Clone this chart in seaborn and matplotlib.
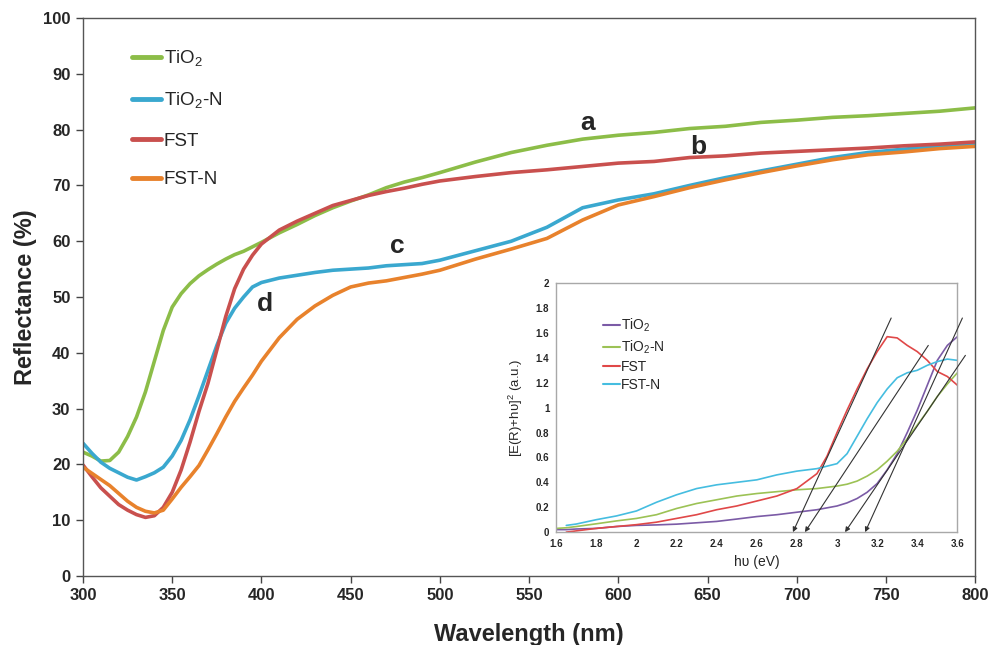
import numpy as np
import pandas as pd
import matplotlib
matplotlib.use("Agg")
import matplotlib.pyplot as plt
import seaborn as sns

# main reflectance spectra
wavelength = [300, 305, 310, 315, 320, 325, 330, 335, 340, 345, 350, 355, 360, 365, 370,
              375, 380, 385, 390, 395, 400, 410, 420, 430, 440, 450, 460, 470, 480, 490,
              500, 520, 540, 560, 580, 600, 620, 640, 660, 680, 700, 720, 740, 760, 780, 800]
tio2 = [22.2, 21.5, 20.6, 20.7, 22.2, 25.0, 28.5, 33.0, 38.5, 44.0, 48.2, 50.6, 52.4, 53.8, 54.9,
        55.9, 56.8, 57.6, 58.2, 59.0, 59.8, 61.5, 63.0, 64.6, 66.0, 67.2, 68.3, 69.6, 70.6, 71.4,
        72.3, 74.2, 75.9, 77.2, 78.3, 79.0, 79.5, 80.2, 80.6, 81.3, 81.7, 82.2, 82.5, 82.9, 83.3, 83.9]
tio2_n = [23.8, 22.0, 20.4, 19.3, 18.5, 17.7, 17.2, 17.8, 18.5, 19.5, 21.5, 24.3, 28.0, 32.3, 36.8,
          41.3, 45.3, 48.0, 50.0, 51.8, 52.6, 53.4, 53.9, 54.4, 54.8, 55.0, 55.2, 55.6, 55.8, 56.0,
          56.6, 58.3, 60.0, 62.5, 66.0, 67.4, 68.5, 70.0, 71.4, 72.6, 73.8, 75.0, 75.9, 76.5, 77.0, 77.4]
fst = [19.9, 17.8, 15.8, 14.3, 12.8, 11.8, 11.0, 10.5, 10.8, 12.3, 15.0, 19.0, 24.0, 29.5, 34.5,
       40.5, 46.5, 51.5, 55.0, 57.5, 59.5, 62.0, 63.6, 65.0, 66.4, 67.3, 68.2, 68.9, 69.5, 70.2,
       70.8, 71.6, 72.3, 72.8, 73.4, 74.0, 74.3, 75.0, 75.3, 75.8, 76.1, 76.4, 76.7, 77.1, 77.4, 77.8]
fst_n = [19.5, 18.4, 17.3, 16.2, 14.8, 13.4, 12.3, 11.6, 11.3, 11.8, 13.8, 15.9, 17.8, 19.8, 22.6,
         25.5, 28.5, 31.3, 33.7, 36.0, 38.5, 42.7, 46.0, 48.4, 50.3, 51.8, 52.5, 52.9, 53.5, 54.1,
         54.8, 56.8, 58.6, 60.5, 63.8, 66.5, 68.0, 69.6, 71.0, 72.3, 73.5, 74.6, 75.5, 76.0, 76.6, 77.0]
main_labels = ["TiO$_2$", "TiO$_2$-N", "FST", "FST-N"]
main_colors = ["#8cbd48", "#3aa8cf", "#c9504e", "#e8822c"]

# inset: Kubelka-Munk plot
energy = [1.6, 1.65, 1.7, 1.8, 1.9, 2.0, 2.1, 2.2, 2.3, 2.4, 2.5, 2.6, 2.7, 2.8, 2.9, 2.95,
          3.0, 3.05, 3.1, 3.15, 3.2, 3.25, 3.3, 3.35, 3.4, 3.45, 3.5, 3.55, 3.6]
km_tio2 = [0.02, 0.02, 0.025, 0.03, 0.045, 0.054, 0.058, 0.064, 0.075, 0.086, 0.105, 0.125, 0.14,
           0.16, 0.18, 0.195, 0.21, 0.235, 0.27, 0.32, 0.39, 0.50, 0.63, 0.80, 0.98, 1.18, 1.38,
           1.50, 1.57]
km_tio2_n = [0.03, 0.035, 0.045, 0.067, 0.09, 0.11, 0.14, 0.19, 0.23, 0.26, 0.29, 0.31, 0.325,
             0.34, 0.35, 0.36, 0.37, 0.385, 0.41, 0.45, 0.50, 0.57, 0.65, 0.75, 0.86, 0.97, 1.09,
             1.19, 1.28]
km_fst = [np.nan, 0.0, 0.01, 0.03, 0.045, 0.06, 0.08, 0.11, 0.14, 0.18, 0.21, 0.25, 0.29, 0.35,
          0.47, 0.61, 0.80, 0.98, 1.15, 1.31, 1.45, 1.57, 1.56, 1.50, 1.45, 1.38, 1.29, 1.25, 1.18]
km_fst_n = [np.nan, 0.054, 0.065, 0.10, 0.13, 0.17, 0.24, 0.30, 0.35, 0.38, 0.40, 0.42, 0.46,
            0.49, 0.51, 0.53, 0.55, 0.63, 0.77, 0.91, 1.04, 1.15, 1.24, 1.28, 1.30, 1.34, 1.37,
            1.39, 1.38]
inset_colors = ["#7b5ba6", "#9cc255", "#e04848", "#45bde0"]

# tangent lines: x-intercept (band gap) and upper end point
tan_x0 = [2.78, 2.84, 3.04, 3.14]
tan_x1 = [3.27, 3.455, 3.64, 3.625]
tan_y1 = [1.72, 1.50, 1.42, 1.72]

curve_labels = {"a": (583, 79.0), "b": (645, 74.8), "c": (476, 57.0), "d": (402, 46.6)}

sns.set_theme(style="white")
plt.rcParams["font.family"] = ["Liberation Sans", "DejaVu Sans"]
plt.rcParams["mathtext.fontset"] = "custom"
plt.rcParams["mathtext.rm"] = "Liberation Sans"

df = pd.DataFrame({"Wavelength": wavelength * 4,
                   "Reflectance": tio2 + tio2_n + fst + fst_n,
                   "Sample": np.repeat(main_labels, len(wavelength))})

fig = plt.figure(figsize=(9.88, 6.45), dpi=100)
ax = fig.add_axes([0.084, 0.107, 0.903, 0.865])
sns.lineplot(data=df, x="Wavelength", y="Reflectance", hue="Sample",
             palette=main_colors, linewidth=2.6, ax=ax, sort=False)
ax.set_xlim(300, 800)
ax.set_ylim(0, 100)
ax.set_xticks(range(300, 801, 50))
ax.set_yticks(range(0, 101, 10))
ax.tick_params(axis="both", labelsize=12, direction="out", length=5, width=1,
               color="#444444", left=True, bottom=True, pad=4)
for lab in ax.get_xticklabels() + ax.get_yticklabels():
    lab.set_fontweight("bold")
for sp in ax.spines.values():
    sp.set_color("#555555")
    sp.set_linewidth(1.0)
ax.set_xlabel("Wavelength (nm)", fontsize=17, fontweight="bold", labelpad=14)
ax.set_ylabel("Reflectance (%)", fontsize=17, fontweight="bold", labelpad=4)

for txt, (xv, yv) in curve_labels.items():
    ax.text(xv, yv, txt, fontsize=19, fontweight="bold", ha="center", va="bottom")

leg = ax.legend(loc="upper left", bbox_to_anchor=(0.036, 0.975), frameon=False,
                fontsize=13.5, handlelength=1.55, handletextpad=0.15, labelspacing=1.15)
for ln in leg.get_lines():
    ln.set_linewidth(3.5)

# inset
dfi = pd.DataFrame({"Energy": energy * 4,
                    "KM": km_tio2 + km_tio2_n + km_fst + km_fst_n,
                    "Sample": np.repeat(main_labels, len(energy))})
axi = fig.add_axes([0.563, 0.175, 0.406, 0.386])
sns.lineplot(data=dfi.dropna(), x="Energy", y="KM", hue="Sample",
             palette=inset_colors, linewidth=1.2, ax=axi, sort=False)
for x0, x1, y1 in zip(tan_x0, tan_x1, tan_y1):
    axi.annotate("", xy=(x0, 0), xytext=(x1, y1),
                 arrowprops=dict(arrowstyle="-|>", color="#333333", lw=0.8,
                                 mutation_scale=7, shrinkA=0, shrinkB=0),
                 annotation_clip=False)
axi.set_xlim(1.6, 3.6)
axi.set_ylim(0, 2)
axi.set_xticks(np.round(np.arange(1.6, 3.61, 0.2), 1))
axi.set_xticklabels(["1.6", "1.8", "2", "2.2", "2.4", "2.6", "2.8", "3", "3.2", "3.4", "3.6"])
axi.set_yticks(np.round(np.arange(0, 2.01, 0.2), 1))
axi.set_yticklabels(["0", "0.2", "0.4", "0.6", "0.8", "1", "1.2", "1.4", "1.6", "1.8", "2"])
axi.tick_params(axis="both", labelsize=7, length=0, pad=5)
for lab in axi.get_xticklabels() + axi.get_yticklabels():
    lab.set_fontweight("bold")
for sp in axi.spines.values():
    sp.set_color("#a8a8a8")
    sp.set_linewidth(1.0)
axi.set_xlabel("h\u03c5 (eV)", fontsize=10, labelpad=4)
axi.set_ylabel("[E(R)+h\u03c5]$^2$ (a.u.)", fontsize=9.5, labelpad=8)
li = axi.legend(loc="upper left", bbox_to_anchor=(0.085, 0.915), frameon=False,
                fontsize=10, handlelength=1.2, handletextpad=0.1, labelspacing=0.3)
for ln in li.get_lines():
    ln.set_linewidth(1.5)

fig.savefig("out.png", dpi=100)
